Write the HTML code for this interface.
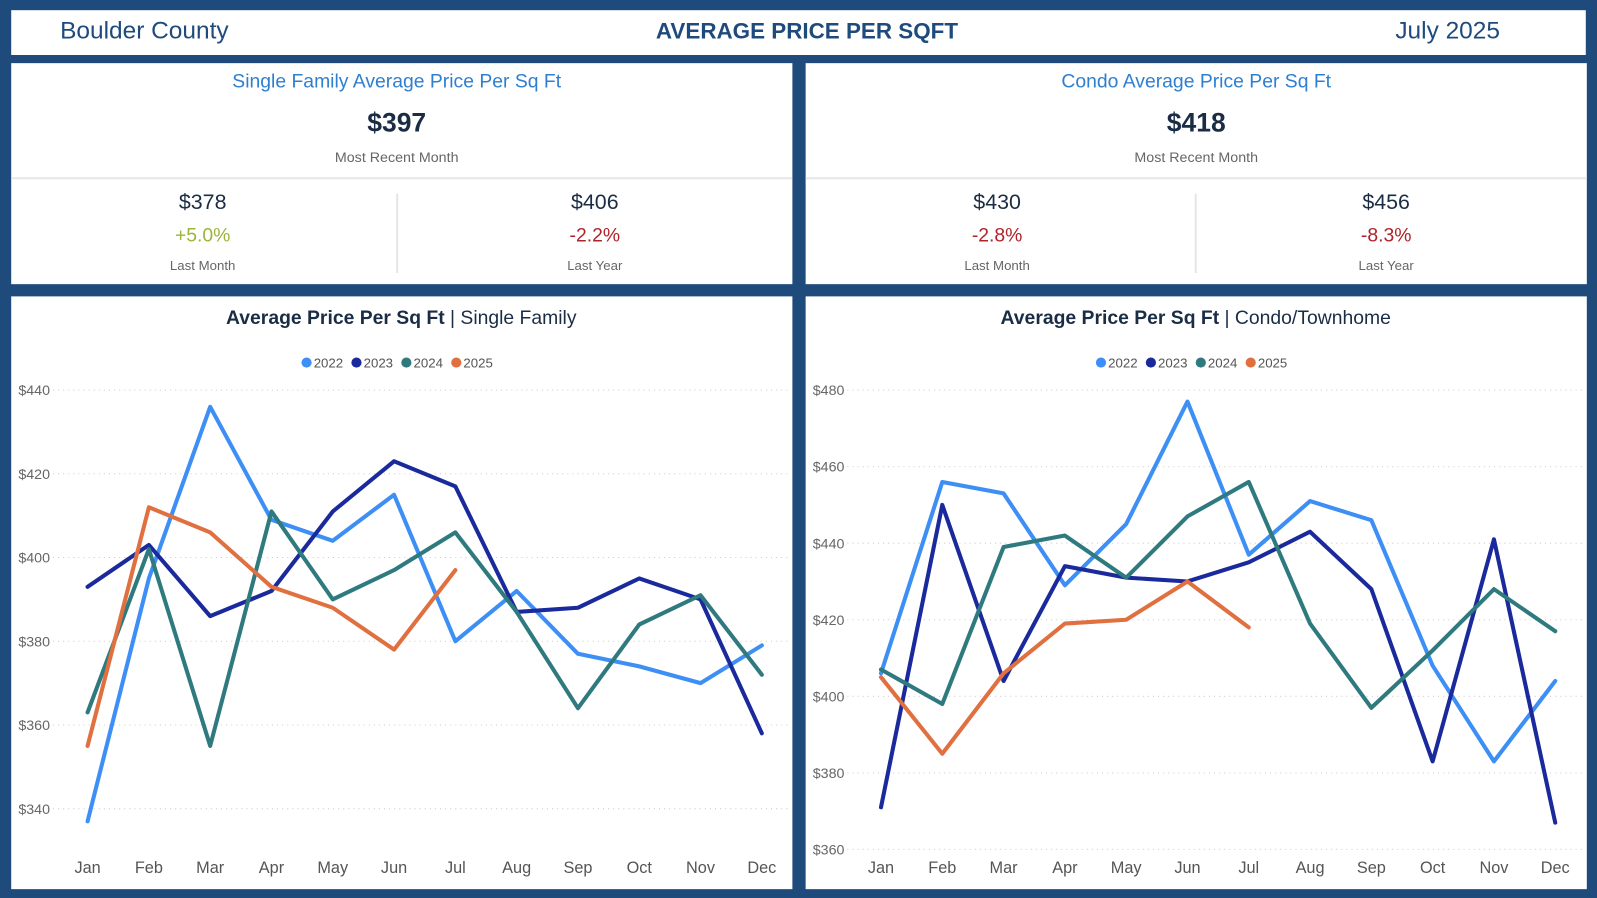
<!DOCTYPE html>
<html><head><meta charset="utf-8"><style>
html,body{margin:0;padding:0;width:1597px;height:898px;overflow:hidden;background:#1f4a7c;font-family:"Liberation Sans",sans-serif}
#wrap{position:absolute;left:0;top:0;width:1568px;height:882px;transform:scale(1.01849);transform-origin:0 0;background:#1f4a7c}
.box{position:absolute;background:#fff}
.t{position:absolute;white-space:nowrap}
.c{text-align:center}
</style></head><body><div id="wrap">
<div class="box" style="left:11px;top:10px;width:1546px;height:44px">
 <div class="t" style="left:48px;top:7px;font-size:24px;color:#1f4a7c">Boulder County</div>
 <div class="t" style="left:633px;top:8px;font-size:22px;font-weight:bold;color:#1f4a7c">AVERAGE PRICE PER SQFT</div>
 <div class="t" style="left:1359px;top:7px;font-size:24px;color:#1f4a7c">July 2025</div>
</div>
<div class="box" style="left:11px;top:62px;width:767px;height:217px">
 <div class="t c" style="left:0;width:757px;top:8px;font-size:19px;color:#2f7fd0">Single Family Average Price Per Sq Ft</div>
 <div class="t c" style="left:0;width:757px;top:43px;font-size:26px;font-weight:bold;color:#1a2d45">$397</div>
 <div class="t c" style="left:0;width:757px;top:84px;font-size:14px;color:#666">Most Recent Month</div>
 <div style="position:absolute;left:0;top:112px;width:767px;height:2px;background:#e6e6e6"></div>
 <div style="position:absolute;left:378px;top:128px;width:2px;height:78px;background:#e6e6e6"></div>
 <div class="t c" style="left:0;width:376px;top:125px;font-size:21px;color:#1a2d45">$378</div>
 <div class="t c" style="left:0;width:376px;top:159px;font-size:19px;color:#9ab53a">+5.0%</div>
 <div class="t c" style="left:0;width:376px;top:191px;font-size:13px;color:#666">Last Month</div>
 <div class="t c" style="left:380px;width:386px;top:125px;font-size:21px;color:#1a2d45">$406</div>
 <div class="t c" style="left:380px;width:386px;top:159px;font-size:19px;color:#b0232a">-2.2%</div>
 <div class="t c" style="left:380px;width:386px;top:191px;font-size:13px;color:#666">Last Year</div>
</div>
<div class="box" style="left:791px;top:62px;width:767px;height:217px">
 <div class="t c" style="left:0;width:767px;top:8px;font-size:19px;color:#2f7fd0">Condo Average Price Per Sq Ft</div>
 <div class="t c" style="left:0;width:767px;top:43px;font-size:26px;font-weight:bold;color:#1a2d45">$418</div>
 <div class="t c" style="left:0;width:767px;top:84px;font-size:14px;color:#666">Most Recent Month</div>
 <div style="position:absolute;left:0;top:112px;width:767px;height:2px;background:#e6e6e6"></div>
 <div style="position:absolute;left:382px;top:128px;width:2px;height:78px;background:#e6e6e6"></div>
 <div class="t c" style="left:0;width:376px;top:125px;font-size:21px;color:#1a2d45">$430</div>
 <div class="t c" style="left:0;width:376px;top:159px;font-size:19px;color:#b0232a">-2.8%</div>
 <div class="t c" style="left:0;width:376px;top:191px;font-size:13px;color:#666">Last Month</div>
 <div class="t c" style="left:384px;width:372px;top:125px;font-size:21px;color:#1a2d45">$456</div>
 <div class="t c" style="left:384px;width:372px;top:159px;font-size:19px;color:#b0232a">-8.3%</div>
 <div class="t c" style="left:384px;width:372px;top:191px;font-size:13px;color:#666">Last Year</div>
</div>
<div class="box" style="left:11px;top:291px;width:767px;height:582px"></div>
<div class="box" style="left:791px;top:291px;width:767px;height:582px"></div>
<svg id="svg" width="1568" height="882" style="position:absolute;left:0;top:0"></svg>
</div>
<script>
const months=["Jan","Feb","Mar","Apr","May","Jun","Jul","Aug","Sep","Oct","Nov","Dec"];
const years=["2022","2023","2024","2025"];
const colors=["#3d8ff5","#1a2a9c","#2f7a7e","#e07040"];
const sf2022=[337,395,436,409,404,415,380,392,377,374,370,379];
const sf2023=[393,403,386,392,411,423,417,387,388,395,390,358];
const sf2024=[363,402,355,411,390,397,406,387,364,384,391,372];
const sf2025=[355,412,406,393,388,378,397];
const sfTicks=[340,360,380,400,420,440];
const co2022=[406,456,453,429,445,477,437,451,446,408,383,404];
const co2023=[371,450,404,434,431,430,435,443,428,383,441,367];
const co2024=[407,398,439,442,431,447,456,419,397,412,428,417];
const co2025=[405,385,406,419,420,430,418];
const coTicks=[360,380,400,420,440,460,480];
const svg=document.getElementById('svg');
const NS="http://www.w3.org/2000/svg";
function mk(tag,attrs,txt){const e=document.createElementNS(NS,tag);for(const k in attrs)e.setAttribute(k,attrs[k]);if(txt!==undefined)e.textContent=txt;svg.appendChild(e);return e;}
function chart(cfg){
  const {series,ticks,x0,x1,gx0,gx1,yTop,yBot,vTop,vBot,px,title,sub,prefix}=cfg;
  const X=i=>x0+(x1-x0)*i/11;
  const Y=v=>yBot-(v-vBot)*(yBot-yTop)/(vTop-vBot);
  let t=mk('text',{x:px+383,y:318,'text-anchor':'middle','font-size':19,fill:'#1a2d45'});
  
  
  const b=document.createElementNS(NS,'tspan');b.setAttribute('font-weight','bold');b.textContent=title;t.appendChild(b);
  const s=document.createElementNS(NS,'tspan');s.textContent=' | '+sub;t.appendChild(s);
  // legend
  let lx=px+290;
  years.forEach((yr,k)=>{
    const c=mk('circle',{cx:lx+k*49,cy:356,r:5,fill:colors[k]});
    
    
    const lt=mk('text',{x:lx+k*49+7,y:361,'font-size':13,fill:'#555'},yr);
    
    
  });
  ticks.forEach(v=>{
    const g=mk('line',{x1:gx0,x2:gx1,y1:Y(v),y2:Y(v),stroke:'#ccc','stroke-dasharray':'1 4'});
    
    
    const tl=mk('text',{x:px+7,y:Y(v)+5,'font-size':14,fill:'#666'},'$'+v);
    
    
  });
  months.forEach((m,i)=>{
    const ml=mk('text',{x:X(i),y:857,'text-anchor':'middle','font-size':16,fill:'#555'},m);
    
    
  });
  series.forEach((d,k)=>{
    const p=mk('polyline',{points:d.map((v,i)=>X(i)+','+Y(v)).join(' '),fill:'none',stroke:colors[k],'stroke-width':4,'stroke-linejoin':'round','stroke-linecap':'round'});
    
    
  });
}
chart({series:[sf2022,sf2023,sf2024,sf2025],ticks:sfTicks,x0:86,x1:748,gx0:42,gx1:775,yTop:383,yBot:794,vTop:440,vBot:340,px:11,title:'Average Price Per Sq Ft',sub:'Single Family',prefix:'sf'});
chart({series:[co2022,co2023,co2024,co2025],ticks:coTicks,x0:865,x1:1527,gx0:822,gx1:1555,yTop:383,yBot:834,vTop:480,vBot:360,px:791,title:'Average Price Per Sq Ft',sub:'Condo/Townhome',prefix:'condo'});
</script>
</body></html>
